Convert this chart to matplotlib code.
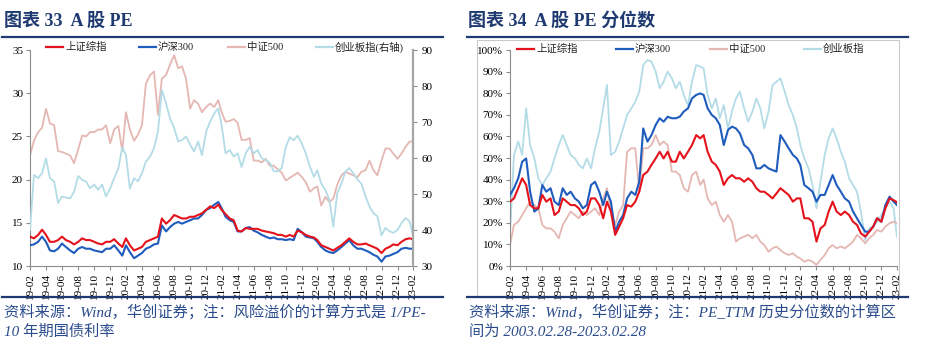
import matplotlib
matplotlib.use("Agg")
import matplotlib.pyplot as plt
from matplotlib.lines import Line2D
from matplotlib.patches import Rectangle
from matplotlib.ticker import FuncFormatter, MultipleLocator
import pandas as pd

# half-month sampling: 2019-02-28, then the 15th and month end through 2023-02
dates = [pd.Timestamp("2019-02-28")]
for p in pd.period_range("2019-03", "2023-02", freq="M"):
    dates += [p.start_time + pd.Timedelta(days=14), p.end_time.normalize()]

# PE levels
sh_pe = [13.4, 13.2, 13.6, 14.2, 13.6, 12.8, 12.8, 13.0, 13.4, 13.0, 12.8, 12.5,
         12.8, 13.2, 13.0, 13.0, 12.8, 12.6, 12.5, 12.8, 12.8, 13.1, 12.6, 12.2,
         13.2, 12.4, 11.8, 12.0, 12.2, 12.8, 13.0, 13.2, 13.4, 15.5, 14.9, 15.3,
         15.9, 15.7, 15.5, 15.5, 15.7, 15.7, 15.9, 16.1, 16.5, 16.9, 16.7, 17.1,
         16.5, 16.0, 15.5, 15.3, 14.1, 14.0, 14.4, 14.3, 14.3, 14.3, 14.1, 14.0,
         13.9, 13.8, 13.6, 13.6, 13.4, 13.6, 13.4, 14.1, 13.9, 13.6, 13.4, 13.3,
         13.0, 12.4, 12.2, 12.0, 11.8, 12.1, 12.4, 12.8, 13.2, 12.8, 12.5, 12.5,
         12.6, 12.4, 12.2, 12.0, 11.5, 12.0, 12.2, 12.5, 12.4, 12.8, 13.1, 13.2,
         13.1]
hs300_pe = [12.4, 12.5, 12.8, 13.4, 12.8, 11.8, 11.7, 12.0, 12.6, 12.2, 11.8, 11.5,
            12.0, 12.2, 12.0, 12.0, 11.8, 11.7, 11.6, 12.0, 12.0, 12.4, 11.8, 11.2,
            12.4, 11.6, 10.9, 11.2, 11.5, 12.0, 12.2, 12.5, 12.6, 14.7, 14.0, 14.5,
            14.9, 15.1, 14.9, 15.1, 15.3, 15.5, 15.5, 15.9, 16.5, 16.7, 17.1, 17.4,
            16.7, 15.7, 15.3, 15.1, 14.0, 14.0, 14.4, 14.5, 14.1, 13.9, 13.6, 13.4,
            13.2, 13.3, 13.1, 13.1, 13.0, 13.1, 13.0, 14.3, 13.9, 13.4, 13.3, 13.2,
            12.8, 12.2, 11.8, 11.6, 11.5, 11.8, 12.2, 12.6, 13.0, 12.4, 12.0, 12.0,
            11.8, 11.6, 11.3, 11.1, 10.5, 11.1, 11.2, 11.4, 11.6, 12.0, 12.1, 12.0,
            12.0]
zz500_pe = [22.8, 24.5, 25.5, 26.0, 28.2, 26.5, 26.3, 23.3, 23.2, 23.0, 22.8, 21.9,
            23.5, 25.1, 25.0, 25.5, 25.5, 25.8, 25.8, 26.3, 24.2, 25.8, 26.2, 23.3,
            27.8, 25.8, 24.5, 25.2, 26.3, 31.1, 32.1, 32.5, 27.5, 31.7, 32.1, 33.3,
            34.4, 32.9, 33.1, 31.7, 28.2, 29.2, 28.8, 27.8, 28.4, 28.8, 28.4, 29.2,
            27.8, 26.7, 26.8, 27.0, 26.6, 24.6, 24.6, 24.8, 22.2, 22.2, 22.0, 22.4,
            21.6, 21.6, 21.2, 20.8, 19.9, 20.2, 20.5, 20.8, 20.3, 19.7, 18.6, 19.0,
            19.2, 17.0, 18.0, 17.4, 17.8, 19.4, 20.5, 20.9, 20.7, 20.5, 20.3, 20.9,
            21.1, 22.2, 21.1, 20.5, 22.2, 23.6, 23.6, 23.0, 22.4, 23.0, 23.8, 24.4,
            24.4]
cyb_pe = [40.0, 55.3, 54.4, 55.8, 59.9, 54.4, 53.5, 47.5, 49.3, 49.0, 48.8, 50.6,
          55.0, 53.9, 53.5, 51.6, 52.6, 51.2, 52.6, 49.3, 51.6, 54.4, 57.1, 63.0,
          60.8, 51.5, 54.4, 53.5, 55.8, 59.0, 60.4, 62.7, 67.3, 78.9, 75.2, 71.0,
          68.3, 64.6, 65.0, 66.0, 63.7, 61.8, 64.6, 60.8, 67.3, 70.1, 72.4, 73.8,
          69.0, 61.3, 62.2, 60.4, 61.3, 57.5, 61.3, 63.1, 61.3, 62.2, 59.9, 59.5,
          58.6, 56.3, 56.3, 57.2, 63.1, 65.8, 64.9, 66.2, 64.0, 61.3, 57.5, 54.8,
          56.6, 52.9, 51.1, 48.3, 40.9, 50.2, 52.9, 56.2, 57.2, 55.8, 54.0, 52.9,
          49.3, 46.5, 44.7, 43.8, 38.5, 40.6, 39.7, 39.2, 40.0, 41.9, 43.3, 42.4,
          38.5]

# PE_TTM historical percentiles (%)
sh_pct = [29.8, 31.3, 36.0, 40.6, 37.5, 28.2, 26.7, 26.7, 32.9, 29.8, 31.3, 23.6,
          25.2, 31.3, 29.8, 28.2, 28.2, 26.7, 23.6, 25.2, 31.3, 31.3, 28.2, 22.1,
          29.8, 25.2, 14.4, 18.2, 22.1, 28.2, 27.5, 29.8, 34.4, 42.1, 43.7, 46.8,
          49.8, 52.9, 49.8, 52.9, 48.3, 48.3, 52.9, 49.8, 52.9, 56.0, 60.6, 59.1,
          60.6, 52.9, 48.3, 46.8, 43.7, 37.5, 40.6, 42.1, 40.6, 40.6, 39.0, 40.6,
          39.0, 36.0, 34.4, 34.4, 32.9, 31.3, 33.6, 36.0, 34.4, 32.9, 29.8, 31.3,
          31.3, 22.1, 22.1, 20.5, 11.3, 17.4, 19.0, 25.2, 29.8, 25.2, 23.6, 25.2,
          23.6, 20.5, 19.0, 15.1, 13.6, 15.9, 18.2, 22.1, 20.5, 26.7, 31.3, 30.5,
          29.5]
hs300_pct = [32.9, 36.0, 40.6, 48.3, 49.8, 34.4, 25.2, 26.7, 37.5, 34.4, 36.0, 29.8,
             28.2, 36.0, 32.9, 34.4, 31.3, 29.8, 26.7, 28.2, 37.5, 39.0, 34.4, 28.2,
             34.4, 29.8, 15.9, 20.5, 23.6, 31.3, 34.4, 32.9, 39.0, 63.7, 57.6, 60.6,
             65.3, 68.4, 66.8, 69.1, 68.4, 68.4, 69.1, 71.5, 73.0, 77.6, 79.2, 79.9,
             79.2, 73.0, 69.9, 68.4, 65.3, 56.0, 63.0, 64.5, 63.7, 61.4, 56.0, 54.5,
             51.4, 45.2, 45.2, 46.8, 45.2, 44.4, 43.7, 60.6, 57.6, 54.5, 51.4, 49.8,
             46.8, 37.5, 36.0, 34.4, 29.8, 32.9, 32.9, 37.5, 42.1, 37.5, 34.4, 31.3,
             29.8, 25.2, 22.1, 19.0, 15.9, 15.9, 18.2, 22.1, 20.5, 28.2, 32.1, 29.8,
             28.2]
zz500_pct = [9.7, 19.0, 20.5, 23.6, 26.7, 29.8, 28.2, 26.7, 19.0, 17.4, 17.4, 15.9,
             12.8, 19.0, 22.1, 25.2, 23.6, 22.1, 25.2, 23.6, 25.2, 26.7, 23.6, 31.3,
             36.0, 25.2, 19.0, 25.2, 28.2, 52.9, 54.5, 54.5, 34.4, 54.5, 54.5, 56.0,
             60.6, 56.0, 57.6, 56.0, 43.7, 43.7, 42.1, 36.0, 34.4, 42.1, 43.7, 37.5,
             40.0, 31.3, 28.2, 29.8, 23.6, 20.5, 23.6, 20.5, 11.3, 12.8, 13.6, 14.4,
             12.8, 14.4, 11.3, 9.7, 6.6, 8.2, 9.0, 7.4, 5.9, 5.1, 5.9, 4.3,
             3.5, 2.0, 2.8, 2.0, 0.5, 2.8, 5.1, 8.2, 9.7, 8.2, 9.0, 8.2,
             9.7, 11.3, 14.4, 12.8, 10.5, 12.8, 14.4, 16.7, 15.9, 18.2, 19.8, 20.5,
             19.8]
cyb_pct = [15.0, 51.4, 57.6, 51.4, 73.0, 56.0, 49.8, 40.6, 37.5, 40.6, 43.7, 49.8,
           56.0, 60.6, 56.0, 51.4, 49.8, 46.8, 45.2, 49.8, 45.2, 54.5, 62.2, 73.0,
           83.8, 51.4, 52.9, 57.6, 63.7, 69.9, 73.0, 76.1, 80.7, 93.0, 95.4, 94.6,
           90.0, 82.3, 85.3, 90.0, 86.9, 82.3, 85.3, 79.2, 74.5, 85.3, 93.0, 92.3,
           91.5, 79.2, 73.0, 77.6, 68.4, 74.5, 63.7, 71.5, 77.6, 80.7, 73.0, 66.8,
           71.5, 77.6, 73.0, 63.7, 71.5, 83.8, 85.3, 86.9, 80.7, 74.5, 69.9, 63.7,
           56.0, 49.8, 45.2, 37.5, 26.7, 39.0, 51.4, 59.1, 63.7, 59.1, 52.9, 48.3,
           40.6, 37.5, 34.4, 25.0, 12.0, 17.5, 18.2, 20.5, 23.6, 26.7, 29.8, 26.7,
           13.5]

W, H = 925, 346
plt.rcParams["font.family"] = ["Liberation Serif", "Noto Sans CJK SC"]

NAVY = "#1F3A70"
CAPTION = "#2B4C8C"
RED = "#E5121C"
BLUE = "#1F5CBD"
PINK = "#E5B7B3"
CYAN = "#B3DCE7"
GREY = "#8C8C8C"


def fx(px):
    return px / W


def fy(py):
    return 1 - py / H


fig = plt.figure(figsize=(W / 100, H / 100), dpi=100)
fig.patch.set_facecolor("white")

tick_dates = dates[::4]
tick_labels = [d.strftime("%y-%m") for d in tick_dates]


def style_xaxis(ax):
    ax.set_xlim(dates[0], dates[-1])
    ax.set_xticks(tick_dates)
    ax.set_xticklabels(tick_labels, rotation=90)
    ax.tick_params(axis="x", direction="out", length=3, color=GREY,
                   labelsize=8, pad=2)


# ---- left panel: PE levels ----
ax1 = fig.add_axes([fx(30), fy(266), fx(413) - fx(30), fy(50) - fy(266)])
ax1r = ax1.twinx()
ax1.plot(dates, zz500_pe, color=PINK, lw=1.3, zorder=2)
ax1.plot(dates, hs300_pe, color=BLUE, lw=1.5, zorder=3)
ax1.plot(dates, sh_pe, color=RED, lw=1.5, zorder=4)
ax1r.plot(dates, cyb_pe, color=CYAN, lw=1.3)

ax1.set_ylim(10, 35)
ax1.yaxis.set_major_locator(MultipleLocator(5))
ax1r.set_ylim(30, 90)
ax1r.yaxis.set_major_locator(MultipleLocator(10))
style_xaxis(ax1)
ax1.tick_params(axis="y", direction="out", length=3, color=GREY, labelsize=8, pad=2)
ax1r.tick_params(axis="y", direction="out", length=3, color=GREY, labelsize=8, pad=3)
for s in ["top", "right"]:
    ax1.spines[s].set_visible(False)
for s in ["top", "left", "bottom"]:
    ax1r.spines[s].set_visible(False)
ax1.spines["left"].set_color(GREY)
ax1.spines["bottom"].set_color(GREY)
ax1r.spines["right"].set_color("#A6A6A6")
ax1r.spines["right"].set_linewidth(1.6)

# ---- right panel: PE percentiles ----
ax2 = fig.add_axes([fx(510), fy(266), fx(897) - fx(510), fy(50) - fy(266)])
ax2.plot(dates, cyb_pct, color=CYAN, lw=1.3, zorder=2)
ax2.plot(dates, zz500_pct, color=PINK, lw=1.3, zorder=2)
ax2.plot(dates, hs300_pct, color=BLUE, lw=1.5, zorder=3)
ax2.plot(dates, sh_pct, color=RED, lw=1.5, zorder=4)
ax2.set_ylim(0, 100)
ax2.yaxis.set_major_locator(MultipleLocator(10))
ax2.yaxis.set_major_formatter(FuncFormatter(lambda v, _: f"{v:.0f}%"))
style_xaxis(ax2)
ax2.tick_params(axis="y", direction="out", length=3, color=GREY, labelsize=8, pad=2)
for s in ["top", "right"]:
    ax2.spines[s].set_visible(False)
ax2.spines["left"].set_color(GREY)
ax2.spines["bottom"].set_color(GREY)
fig.add_artist(Rectangle((fx(477), fy(297)), fx(899) - fx(477), fy(40) - fy(297),
                         transform=fig.transFigure, fill=False,
                         edgecolor="#C9C9C9", lw=0.8))


# ---- legends ----
def draw_legend(entries, xs, y):
    for (label, color), x in zip(entries, xs):
        fig.add_artist(Line2D([fx(x), fx(x + 17)], [fy(y), fy(y)],
                              color=color, lw=1.6, transform=fig.transFigure))
        fig.text(fx(x + 19), fy(y), label, fontsize=7.5, va="center",
                 ha="left", color="#222222")


draw_legend([("上证综指", RED), ("沪深300", BLUE), ("中证500", PINK),
             ("创业板指(右轴)", CYAN)], [46, 139, 228, 316], 47)
draw_legend([("上证综指", RED), ("沪深300", BLUE), ("中证500", PINK),
             ("创业板指", CYAN)], [517, 616, 710, 804], 49)

# ---- titles, rules and notes ----
for x0, x1 in [(2, 443), (467, 908)]:
    for y in (37, 297):
        fig.add_artist(Line2D([fx(x0), fx(x1)], [fy(y), fy(y)], color=NAVY,
                              lw=1.6, transform=fig.transFigure))

fig.text(fx(4), fy(21), "图表 33  A 股 PE", fontsize=13, fontweight="bold",
         color=NAVY, va="center")
fig.text(fx(468), fy(21), "图表 34  A 股 PE 分位数", fontsize=13,
         fontweight="bold", color=NAVY, va="center")

note_kw = dict(fontsize=11, style="italic", color=CAPTION, va="center")
fig.text(fx(4), fy(312), "资料来源：Wind，华创证券；注：风险溢价的计算方式是 1/PE-", **note_kw)
fig.text(fx(4), fy(332), "10 年期国债利率", **note_kw)
fig.text(fx(469), fy(312), "资料来源：Wind，华创证券；注：PE_TTM 历史分位数的计算区", **note_kw)
fig.text(fx(469), fy(332), "间为 2003.02.28-2023.02.28", **note_kw)

fig.savefig("out.png", dpi=100)
